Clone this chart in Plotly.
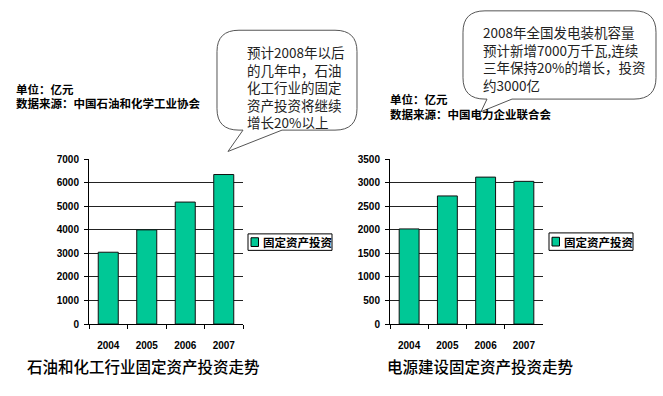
import plotly.graph_objects as go

W, H = 663, 396

years = ["2004", "2005", "2006", "2007"]
petro_invest = [3050, 4000, 5180, 6350]
power_invest = [2020, 2720, 3120, 3030]
petro_ticks = [0, 1000, 2000, 3000, 4000, 5000, 6000, 7000]
power_ticks = [0, 500, 1000, 1500, 2000, 2500, 3000, 3500]
series_name = "固定资产投资"
title_left = "石油和化工行业固定资产投资走势"
title_right = "电源建设固定资产投资走势"
unit_text = "单位：亿元"
src_left = "数据来源：中国石油和化学工业协会"
src_right = "数据来源：中国电力企业联合会"
bubble_left = "预计2008年以后<br>的几年中，石油<br>化工行业的固定<br>资产投资将继续<br>增长20%以上"
bubble_right = "2008年全国发电装机容量<br>预计新增7000万千瓦,连续<br>三年保持20%的增长，投资<br>约3000亿"

BAR = "#00C896"
CJK = "Noto Sans CJK SC"
NUM = "Arial, Liberation Sans, sans-serif"


def px(x, y):
    return x / W, 1 - y / H


def P(x, y):
    a, b = px(x, y)
    return f"{a:.5f},{b:.5f}"


def bubble_path(x0, y0, x1, y1, r, bx0, bx1, tx, ty):
    return (f"M {P(x0 + r, y0)} L {P(x1 - r, y0)} Q {P(x1, y0)} {P(x1, y0 + r)} "
            f"L {P(x1, y1 - r)} Q {P(x1, y1)} {P(x1 - r, y1)} L {P(bx1, y1)} "
            f"L {P(tx, ty)} L {P(bx0, y1)} L {P(x0 + r, y1)} Q {P(x0, y1)} {P(x0, y1 - r)} "
            f"L {P(x0, y0 + r)} Q {P(x0, y0)} {P(x0 + r, y0)} Z")


fig = go.Figure()
fig.add_trace(go.Bar(x=years, y=petro_invest, name=series_name, xaxis="x", yaxis="y",
                     marker=dict(color=BAR, line=dict(color="#111", width=1)), showlegend=False))
fig.add_trace(go.Bar(x=years, y=power_invest, name=series_name, xaxis="x2", yaxis="y2",
                     marker=dict(color=BAR, line=dict(color="#111", width=1)), showlegend=False))

ydom = [1 - 328 / H, 1 - 158 / H]
common_x = dict(type="category", showline=True, linecolor="#000", linewidth=1,
                ticks="outside", tickson="boundaries", ticklen=4, tickcolor="#000",
                tickfont=dict(family=NUM, size=10, color="#000", weight="bold"),
                ticklabelstandoff=12, showgrid=False, fixedrange=True)
common_y = dict(showline=True, linecolor="#000", linewidth=1, ticks="outside", ticklen=4,
                tickcolor="#000", showgrid=True, gridcolor="#222", gridwidth=1,
                tickfont=dict(family=NUM, size=10, color="#000", weight="bold"),
                ticklabelstandoff=3, zeroline=False, fixedrange=True)

fig.update_layout(
    width=W, height=H, margin=dict(l=0, r=0, t=0, b=0),
    paper_bgcolor="white", plot_bgcolor="white", bargap=0.48,
    xaxis=dict(domain=[89 / W, 243 / W], anchor="y", **common_x),
    yaxis=dict(domain=ydom, anchor="x", range=[0, 7000], tickvals=petro_ticks, **common_y),
    xaxis2=dict(domain=[390 / W, 543 / W], anchor="y2", **common_x),
    yaxis2=dict(domain=ydom, anchor="x2", range=[0, 3500], tickvals=power_ticks, **common_y),
)

shapes = []
annotations = []

# bubbles
shapes.append(dict(type="path", xref="paper", yref="paper",
                   path=bubble_path(217, 25, 357, 128, 22, 243, 282, 228, 150),
                   line=dict(color="#555", width=1), fillcolor="white", layer="above"))
shapes.append(dict(type="path", xref="paper", yref="paper",
                   path=bubble_path(463, 5, 656, 96, 22, 487, 512, 481, 109),
                   line=dict(color="#555", width=1), fillcolor="white", layer="above"))

bx, by = px(245, 84)
annotations.append(dict(x=bx, y=by, xref="paper", yref="paper", xanchor="left", yanchor="middle",
                        text=bubble_left, showarrow=False, align="left",
                        font=dict(family=CJK, size=13.5, color="#222")))
bx, by = px(481, 54)
annotations.append(dict(x=bx, y=by, xref="paper", yref="paper", xanchor="left", yanchor="middle",
                        text=bubble_right, showarrow=False, align="left",
                        font=dict(family=CJK, size=13.5, color="#222")))

# unit / source texts
for (x, y1, y2, src) in [(14, 86, 100, src_left), (388, 96, 111, src_right)]:
    for yy, t in [(y1, unit_text), (y2, src)]:
        ax, ay = px(x, yy)
        annotations.append(dict(x=ax, y=ay, xref="paper", yref="paper", xanchor="left",
                                yanchor="middle", text=t, showarrow=False,
                                font=dict(family=CJK, size=11.5, color="#000", weight="bold")))

# titles
for cx, t in [(143, title_left), (480, title_right)]:
    ax, ay = px(cx, 371)
    annotations.append(dict(x=ax, y=ay, xref="paper", yref="paper", xanchor="center",
                            yanchor="middle", text=t, showarrow=False,
                            font=dict(family=CJK, size=15.5, color="#000", weight=500)))

# manual legends
for (lx0, ly0, lx1, ly1) in [(248, 235, 332, 252), (549, 234, 633, 252)]:
    a0, b1 = px(lx0, ly0)
    a1, b0 = px(lx1, ly1)
    shapes.append(dict(type="rect", xref="paper", yref="paper", x0=a0, x1=a1, y0=b0, y1=b1,
                       line=dict(color="#000", width=1), fillcolor="white"))
    cy = (ly0 + ly1) / 2
    s0, t1 = px(lx0 + 3, cy - 4.5)
    s1, t0 = px(lx0 + 10.5, cy + 4.5)
    shapes.append(dict(type="rect", xref="paper", yref="paper", x0=s0, x1=s1, y0=t0, y1=t1,
                       line=dict(color="#000", width=1), fillcolor=BAR))
    ax, ay = px(lx0 + 12.5, cy)
    annotations.append(dict(x=ax, y=ay, xref="paper", yref="paper", xanchor="left",
                            yanchor="middle", text=series_name, showarrow=False,
                            font=dict(family=CJK, size=11.5, color="#000", weight="bold")))

fig.update_layout(shapes=shapes, annotations=annotations)
fig.write_html("out.html", config={"displayModeBar": False},
               post_script="document.body.style.margin='0';document.body.style.overflow='hidden';")
